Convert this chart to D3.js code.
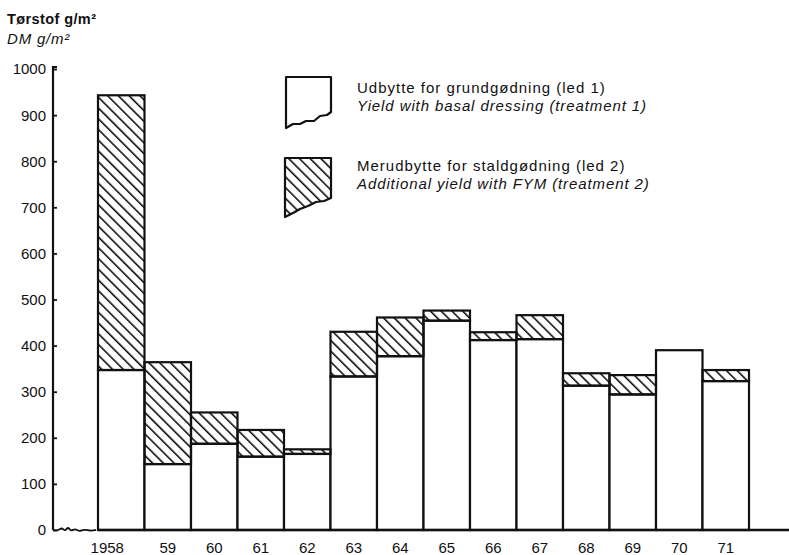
<!DOCTYPE html>
<html>
<head>
<meta charset="utf-8">
<script src="https://cdn.jsdelivr.net/npm/d3@7"></script>
<style>
  html, body { margin: 0; padding: 0; background: #fff; }
  svg { display: block; font-family: "Liberation Sans", Arial, sans-serif; }
</style>
</head>
<body>
<svg id="chart" width="789" height="555"></svg>
<script>
// Dry matter yield per year, g/m2
const years = ["1958", "59", "60", "61", "62", "63", "64", "65", "66", "67", "68", "69", "70", "71"];
const basalYield = [347, 143, 187, 159, 165, 333, 377, 454, 412, 414, 313, 294, 390, 323];
const fymExtra   = [596, 221, 68, 58, 10, 97, 84, 22, 17, 52, 27, 42, 0, 24];
const yTicks = [0, 100, 200, 300, 400, 500, 600, 700, 800, 900, 1000];

const svg = d3.select("#chart");
const axisX = 53;
const y = d3.scaleLinear().domain([0, 1000]).range([530, 69]);
const x = d3.scaleBand().domain(years).range([98, 749]).padding(0);

// hatch pattern for the farmyard-manure increment
const defs = svg.append("defs");
defs.append("pattern")
  .attr("id", "hatch")
  .attr("patternUnits", "userSpaceOnUse")
  .attr("width", 7.6).attr("height", 7.6)
  .attr("patternTransform", "rotate(-45)")
  .append("line")
  .attr("x1", 0).attr("y1", -2).attr("x2", 0).attr("y2", 10)
  .attr("stroke", "#000").attr("stroke-width", 3);

const rows = years.map((yr, i) => ({ yr, base: basalYield[i], extra: fymExtra[i] }));

// basal dressing bars
svg.append("g").selectAll("rect").data(rows).join("rect")
  .attr("x", d => x(d.yr))
  .attr("width", x.bandwidth())
  .attr("y", d => y(d.base))
  .attr("height", d => y(0) - y(d.base))
  .attr("fill", "#fff")
  .attr("stroke", "#111").attr("stroke-width", 2.2);

// additional yield with FYM
svg.append("g").selectAll("rect").data(rows.filter(d => d.extra > 0)).join("rect")
  .attr("x", d => x(d.yr))
  .attr("width", x.bandwidth())
  .attr("y", d => y(d.base + d.extra))
  .attr("height", d => y(d.base) - y(d.base + d.extra))
  .attr("fill", "url(#hatch)")
  .attr("stroke", "#111").attr("stroke-width", 2.2);

// y axis
const yAxis = d3.axisRight(y).tickValues(yTicks).tickSize(4).tickFormat("");
const ga = svg.append("g").attr("transform", `translate(${axisX},0)`).call(yAxis);
ga.select(".domain").remove();
ga.selectAll(".tick line").attr("stroke", "#111").attr("stroke-width", 1.8);
svg.append("path")
  .attr("d", `M${axisX},${y(0)}V${y(1000) - 2}h4`)
  .attr("fill", "none").attr("stroke", "#111").attr("stroke-width", 2.2);

svg.append("g").selectAll("text").data(yTicks).join("text")
  .attr("x", axisX - 7)
  .attr("y", d => y(d))
  .attr("dy", "0.36em")
  .attr("text-anchor", "end")
  .attr("font-size", 15)
  .attr("fill", "#111")
  .text(d => d);

// x baseline with broken-axis squiggle
svg.append("path")
  .attr("d", d3.line().curve(d3.curveBasis)([
    [axisX, y(0)], [58, y(0) + 1], [62, y(0) - 3], [65, y(0) + 2], [68, y(0) - 4],
    [71, y(0) + 2], [75, y(0) - 2], [79, y(0) + 2], [84, y(0) - 1], [90, y(0) + 1], [96, y(0)]
  ]))
  .attr("fill", "none").attr("stroke", "#111").attr("stroke-width", 1.8);
svg.append("line")
  .attr("x1", x(years[0])).attr("x2", 789)
  .attr("y1", y(0)).attr("y2", y(0))
  .attr("stroke", "#111").attr("stroke-width", 2.4);

// year labels; the four-digit first year sits left of its bar centre
svg.append("g").selectAll("text").data(years).join("text")
  .attr("x", (d, i) => x(d) + x.bandwidth() / 2 - (i === 0 ? 14 : 0))
  .attr("y", 553)
  .attr("text-anchor", "middle")
  .attr("font-size", 15)
  .attr("fill", "#111")
  .text(d => d);

// axis title
svg.append("text").attr("x", 7).attr("y", 24)
  .attr("font-size", 14.5).attr("font-weight", "bold").attr("letter-spacing", 0.4).attr("fill", "#111")
  .text("Tørstof g/m²");
svg.append("text").attr("x", 7).attr("y", 44)
  .attr("font-size", 15).attr("font-style", "italic").attr("letter-spacing", 0.8).attr("fill", "#111")
  .text("DM g/m²");

// legend
const legend = [
  { fill: "#fff", lines: ["Udbytte for grundgødning (led 1)", "Yield with basal dressing (treatment 1)"], base: 93 },
  { fill: "url(#hatch)", lines: ["Merudbytte for staldgødning (led 2)", "Additional yield with FYM (treatment 2)"], base: 171 }
];
const lg = svg.append("g");
lg.append("path")
  .attr("d", "M286,77H331V112L327,115L320,116L314,121L306,121L300,124L293,124L286,128Z")
  .attr("fill", legend[0].fill).attr("stroke", "#111").attr("stroke-width", 2.2).attr("stroke-linejoin", "round");
lg.append("path")
  .attr("d", "M285,158H331V198L324,201L316,202L308,206L300,209L293,213L285,217Z")
  .attr("fill", legend[1].fill).attr("stroke", "#111").attr("stroke-width", 2.2).attr("stroke-linejoin", "round");
legend.forEach(item => {
  lg.append("text").attr("x", 357).attr("y", item.base)
    .attr("font-size", 15).attr("letter-spacing", 1.0).attr("fill", "#111").text(item.lines[0]);
  lg.append("text").attr("x", 357).attr("y", item.base + 18)
    .attr("font-size", 15).attr("font-style", "italic").attr("letter-spacing", 0.9).attr("fill", "#111").text(item.lines[1]);
});
</script>
</body>
</html>
